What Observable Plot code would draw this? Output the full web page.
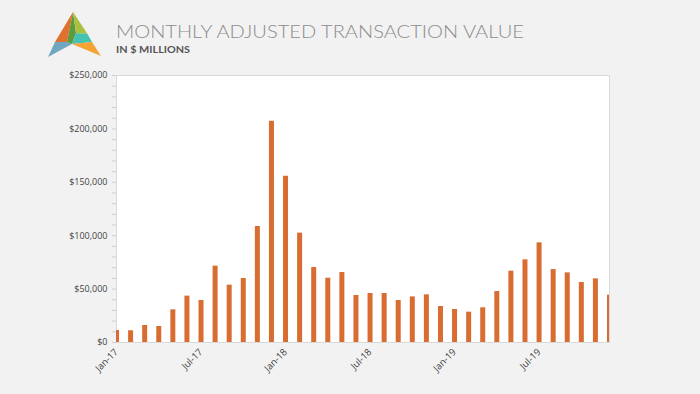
<!DOCTYPE html>
<html>
<head>
<meta charset="utf-8">
<script src="https://cdn.jsdelivr.net/npm/d3@7"></script>
<script src="https://cdn.jsdelivr.net/npm/@observablehq/plot@0.6"></script>
<style>
  html, body { margin: 0; padding: 0; background: #f2f2f2; width: 700px; height: 394px; overflow: hidden; }
  #header { display: block; }
  #chart svg { display: block; }
</style>
</head>
<body>
<svg id="header" width="700" height="62" xmlns="http://www.w3.org/2000/svg">
  <g>
    <polygon points="48,57 55,42 67,42 72,44" fill="#6fa7c0"/>
    <polygon points="73,12 55,42 67,42" fill="#e0712f"/>
    <polygon points="73,12 76,33 72,44 67,42" fill="#5e9a3e"/>
    <polygon points="73,12 87.5,34 76,33" fill="#a9c13f"/>
    <polygon points="76,33 87.5,34 92,42 72,44" fill="#45c2b0"/>
    <polygon points="72,44 92,42 101,56" fill="#f5a332"/>
  </g>
  <text x="116" y="37.7" font-family="Lato" font-weight="300" font-size="17.7" fill="#8c8c8c" textLength="408" lengthAdjust="spacingAndGlyphs">MONTHLY ADJUSTED TRANSACTION VALUE</text>
  <text x="116" y="53.3" font-family="Lato" font-weight="700" font-size="8.5" fill="#555" textLength="74" lengthAdjust="spacingAndGlyphs">IN $ MILLIONS</text>
</svg>
<div id="chart"></div>
<script>
const months = ["Jan-17","Feb-17","Mar-17","Apr-17","May-17","Jun-17","Jul-17","Aug-17","Sep-17","Oct-17","Nov-17","Dec-17",
                "Jan-18","Feb-18","Mar-18","Apr-18","May-18","Jun-18","Jul-18","Aug-18","Sep-18","Oct-18","Nov-18","Dec-18",
                "Jan-19","Feb-19","Mar-19","Apr-19","May-19","Jun-19","Jul-19","Aug-19","Sep-19","Oct-19","Nov-19","Dec-19"];
const values = [11200, 11000, 15900, 15000, 30600, 43400, 39300, 71500, 53700, 59900, 108600, 207200,
                155700, 102400, 70200, 60200, 65500, 44000, 45900, 45900, 39300, 42700, 44600, 33700,
                30900, 28400, 32500, 47700, 66800, 77400, 93300, 68300, 65200, 56200, 59600, 44300];
const xTickLabels = ["Jan-17","Jul-17","Jan-18","Jul-18","Jan-19","Jul-19"];
const yMajor = [0, 50000, 100000, 150000, 200000, 250000];

const data = months.map((m, i) => ({i, month: m, value: values[i]}));
const xTicks = xTickLabels.map(l => months.indexOf(l));
const yMinor = d3.range(0, 250001, 10000);
const fmt = d3.format(",");

const chart = Plot.plot({
  width: 700,
  height: 332,
  marginTop: 13,
  marginBottom: 52,
  marginLeft: 116,
  marginRight: 91,
  style: {background: "transparent", fontFamily: "Open Sans", fontSize: "9px", color: "#444"},
  x: {type: "linear", domain: [0, months.length - 1]},
  y: {domain: [0, 250000]},
  marks: [
    Plot.frame({fill: "white", stroke: "#d9d9d9"}),
    Plot.ruleX(data, {x: "i", y1: 0, y2: "value", stroke: "#d96c30", strokeWidth: 5, clip: true}),
    Plot.axisY({ticks: yMinor, tickSize: 4, tickPadding: 5, stroke: "#cfcfcf", fill: "#444",
      tickFormat: d => yMajor.includes(d) ? "$" + fmt(d) : "", label: null}),
    Plot.axisX({ticks: xTicks, tickSize: 0, tickPadding: 8, tickRotate: -45, fill: "#444", fontSize: 9.5,
      tickFormat: d => months[d], label: null})
  ]
});
document.getElementById("chart").appendChild(chart);
</script>
</body>
</html>
